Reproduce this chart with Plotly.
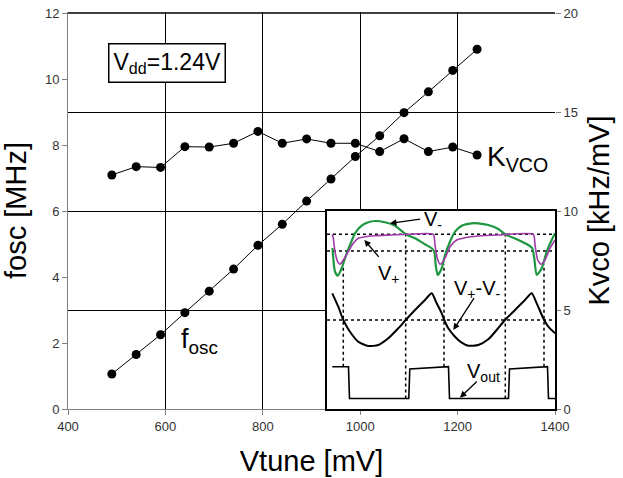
import plotly.graph_objects as go

# ---------------- main data ----------------
vtune = [490, 540, 590, 640, 690, 740, 790, 840, 890, 940, 990, 1040, 1090, 1140, 1190, 1240]
fosc = [1.06, 1.65, 2.25, 2.92, 3.57, 4.24, 4.96, 5.60, 6.30, 6.97, 7.65, 8.28, 8.98, 9.61, 10.26, 10.90]
kvco = [11.82, 12.24, 12.20, 13.25, 13.23, 13.42, 14.02, 13.42, 13.64, 13.42, 13.42, 13.00, 13.65, 13.00, 13.23, 12.83]

x_ticks = [400, 600, 800, 1000, 1200, 1400]
y_left_ticks = [0, 2, 4, 6, 8, 10, 12]
y_right_ticks = [0, 5, 10, 15, 20]
top_gridline = 20

# ---------------- inset waveforms (arbitrary units) ----------------
t_vminus = [5.5, 8, 10.7, 14.7, 18, 23, 28, 34.7, 41.3, 48, 58, 68, 79, 88, 98, 104.7, 107.3, 108.7, 110.7,
            114.7, 118, 123, 128, 134.7, 144.7, 151.3, 161.3, 171.3, 178.3, 191.3, 201.3, 205.3, 207.3,
            209.7, 214.7, 219.7, 224.7, 228]
v_vminus = [161, 137.3, 133.3, 140.7, 150.7, 164, 175.7, 183.3, 186.7, 188, 186.7, 183.3, 174.7, 170.7,
            164.7, 160.7, 157.3, 144, 134, 140.7, 154, 167.3, 177.3, 183.3, 185.7, 185.7, 184, 180, 174.7,
            169, 164, 160.7, 150.7, 134, 140.7, 157.3, 169, 175.7]

t_vplus = [5.3, 6.3, 8, 10.7, 13, 16.3, 21.3, 26.3, 31.3, 38, 48, 64.7, 81.3, 106.3, 108, 110.3, 113, 118,
           123, 129.7, 138, 151.3, 171.3, 206.3, 208, 210.7, 214, 218, 223, 228]
v_vplus = [174.7, 170.7, 157.3, 147.3, 144.7, 149, 157.3, 165.7, 170.7, 172.3, 173.3, 174, 174.7, 174.7,
           164, 150.7, 144.7, 150.7, 162.3, 169, 171.3, 173, 174, 174.7, 164, 149, 144.7, 149, 160.7, 169]

t_vdiff = [5.3, 11.3, 16.3, 23, 31.3, 41.3, 51.3, 61.3, 71.3, 78.7, 88, 98, 104.7, 109.7, 114.7, 117.3,
           121.3, 128, 134.7, 141.3, 151.3, 161.3, 169.7, 178, 188, 198, 204.7, 209.7, 216.3, 221.3, 228]
v_vdiff = [115.7, 102.3, 89, 77.3, 67.3, 63, 64, 70.7, 80.7, 89, 99, 109, 115.7, 105.7, 95.7, 89, 80.7,
           72.3, 66.3, 63.3, 64, 69.7, 79, 89, 99, 109, 115.7, 105.7, 90.7, 82.3, 75.7]

t_vout = [5.3, 21.5, 22.5, 81.8, 82.8, 121.5, 122.5, 181.5, 182.5, 220.5, 221.5, 228]
v_vout = [42.3, 42.3, 10.5, 10.5, 40, 42.3, 10.5, 10.5, 40, 42.3, 10.5, 10.5]

ref_levels = [174.7, 158, 89]
ref_times = [16.3, 78.7, 117, 178.3, 217]
ref_time_lo = [42.3, 10.5, 42.3, 10.5, 42.3]
ref_time_hi = [146, 174.7, 144.7, 174.7, 144.7]

INSET_T = [0, 228]
INSET_V = [0, 198]

FONT = "Liberation Sans, Arial, sans-serif"

# plot area is 397 px tall; the top 1 px is headroom so the 12 / 20 line sits inside it
PLOT_H = 397
Y_LEFT_RANGE = [0, 12 * PLOT_H / 396]
Y_RIGHT_RANGE = [0, 20 * PLOT_H / 396]

fig = go.Figure()

fig.add_trace(go.Scatter(x=vtune, y=fosc, mode="lines+markers", yaxis="y", xaxis="x",
                         line=dict(color="black", width=1),
                         marker=dict(color="black", size=9), showlegend=False))
fig.add_trace(go.Scatter(x=vtune, y=kvco, mode="lines+markers", yaxis="y2", xaxis="x",
                         line=dict(color="black", width=1),
                         marker=dict(color="black", size=9), showlegend=False))

# inset reference dotted lines
for lv in ref_levels:
    fig.add_trace(go.Scatter(x=INSET_T, y=[lv, lv], mode="lines", xaxis="x2", yaxis="y3",
                             line=dict(color="black", width=1.5, dash="dot"), showlegend=False))
for tt, lo, hi in zip(ref_times, ref_time_lo, ref_time_hi):
    fig.add_trace(go.Scatter(x=[tt, tt], y=[lo, hi], mode="lines", xaxis="x2", yaxis="y3",
                             line=dict(color="black", width=1.5, dash="dot"), showlegend=False))

fig.add_trace(go.Scatter(x=t_vminus, y=v_vminus, mode="lines", xaxis="x2", yaxis="y3",
                         line=dict(color="#1e9640", width=2.2, shape="spline", smoothing=0.6), showlegend=False))
fig.add_trace(go.Scatter(x=t_vplus, y=v_vplus, mode="lines", xaxis="x2", yaxis="y3",
                         line=dict(color="#a03aa8", width=1.6, shape="spline", smoothing=0.6), showlegend=False))
fig.add_trace(go.Scatter(x=t_vdiff, y=v_vdiff, mode="lines", xaxis="x2", yaxis="y3",
                         line=dict(color="black", width=2, shape="spline", smoothing=0.6), showlegend=False))
fig.add_trace(go.Scatter(x=t_vout, y=v_vout, mode="lines", xaxis="x2", yaxis="y3",
                         line=dict(color="black", width=1.6), showlegend=False))

axis_common = dict(ticks="outside", ticklen=5, tickcolor="#808080", showline=True, linecolor="#808080",
                   linewidth=1, zeroline=False, automargin=False, ticklabeloverflow="allow",
                   tickfont=dict(size=13, color="#333333", family=FONT))

fig.update_layout(
    width=623, height=478, autosize=False,
    margin=dict(l=68, r=68, t=12, b=69, autoexpand=False),
    paper_bgcolor="white", plot_bgcolor="white",
    font=dict(family=FONT, color="black"),
    xaxis=dict(domain=[0, 1], range=[400, 1400], tickvals=x_ticks, anchor="y",
               showgrid=True, gridcolor="black", gridwidth=1,
               title=dict(text="Vtune [mV]", font=dict(size=29, family=FONT), standoff=18),
               **axis_common),
    yaxis=dict(range=Y_LEFT_RANGE, tickvals=y_left_ticks, showgrid=False, anchor="x",
               title=dict(text="fosc [MHz]", font=dict(size=29, family=FONT), standoff=9),
               **axis_common),
    yaxis2=dict(range=Y_RIGHT_RANGE, tickvals=y_right_ticks, overlaying="y", side="right", anchor="x",
                showgrid=True, gridcolor="black", gridwidth=1, automargin=False, ticklabeloverflow="allow",
                ticks="outside", ticklen=5, tickcolor="#808080", showline=False, zeroline=False,
                tickfont=dict(size=13, color="#333333", family=FONT),
                title=dict(text="Kvco [kHz/mV]", font=dict(size=29, family=FONT), standoff=11)),
    xaxis2=dict(domain=[0.5318, 1], range=INSET_T, anchor="y3", showgrid=False, zeroline=False,
                automargin=False,
                showticklabels=False, ticks="", showline=True, mirror=True, linecolor="black", linewidth=2),
    yaxis3=dict(domain=[0, 198 / PLOT_H], range=INSET_V, anchor="x2", showgrid=False, zeroline=False,
                automargin=False,
                showticklabels=False, ticks="", showline=True, mirror=True, linecolor="black", linewidth=2),
    shapes=[dict(type="line", xref="x domain", yref="y2", x0=0, x1=1,
                 y0=top_gridline, y1=top_gridline,
                 line=dict(color="black", width=1.5), layer="above")],
)

annots = [
    dict(text="V<sub>dd</sub>=1.24V", x=603, y=10.48, xref="x", yref="y", showarrow=False,
         font=dict(size=23, family=FONT, color="black"), bordercolor="black", borderwidth=1.5,
         borderpad=4, bgcolor="white"),
    dict(text="f<sub>osc</sub>", x=670, y=2.05, xref="x", yref="y", showarrow=False,
         font=dict(size=27, family=FONT, color="black")),
    dict(text="K<sub>VCO</sub>", x=1322, y=7.58, xref="x", yref="y", showarrow=False,
         font=dict(size=28, family=FONT, color="black")),
    # inset labels
    dict(text="V<sub>-</sub>", x=106, y=188, xref="x2", yref="y3", showarrow=False,
         font=dict(size=20, family=FONT, color="black")),
    dict(text="V<sub>+</sub>", x=62, y=135, xref="x2", yref="y3", showarrow=False,
         font=dict(size=20, family=FONT, color="black")),
    dict(text="V<sub>+</sub>-V<sub>-</sub>", x=150.5, y=120, xref="x2", yref="y3", showarrow=False,
         font=dict(size=20, family=FONT, color="black")),
    dict(text="V<sub>out</sub>", x=156.5, y=36.5, xref="x2", yref="y3", showarrow=False,
         font=dict(size=20, family=FONT, color="black")),
]
arrows = [((94.7, 190), (63, 185.7)), ((53, 150.7), (37.3, 169)),
          ((148, 112.3), (126.3, 79)), ((151.3, 29), (133, 11.3))]
for (tx, ty), (hx, hy) in arrows:
    annots.append(dict(text="", x=hx, y=hy, ax=tx, ay=ty, xref="x2", yref="y3", axref="x2", ayref="y3",
                       showarrow=True, arrowhead=2, arrowsize=1, arrowwidth=1.3, arrowcolor="black",
                       standoff=0, startstandoff=0))
fig.update_layout(annotations=annots)

fig.write_html("out.html", config={"displayModeBar": False},
               post_script="document.body.style.margin='0';document.body.style.overflow='hidden';")
